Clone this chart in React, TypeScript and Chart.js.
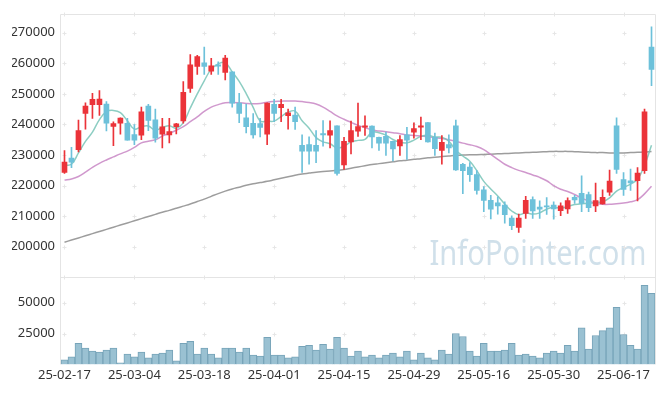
import { useEffect, useRef } from 'react';
import { Chart, registerables } from 'chart.js';

Chart.register(...registerables);

const DATES = [
  '25-02-17','25-02-18','25-02-19','25-02-20','25-02-21','25-02-24','25-02-25','25-02-26','25-02-27','25-02-28',
  '25-03-04','25-03-05','25-03-06','25-03-07','25-03-10','25-03-11','25-03-12','25-03-13','25-03-14','25-03-17',
  '25-03-18','25-03-19','25-03-20','25-03-21','25-03-24','25-03-25','25-03-26','25-03-27','25-03-28','25-03-31',
  '25-04-01','25-04-02','25-04-03','25-04-04','25-04-07','25-04-08','25-04-09','25-04-10','25-04-11','25-04-14',
  '25-04-15','25-04-16','25-04-17','25-04-18','25-04-21','25-04-22','25-04-23','25-04-24','25-04-25','25-04-28',
  '25-04-29','25-04-30','25-05-02','25-05-07','25-05-08','25-05-09','25-05-12','25-05-13','25-05-14','25-05-15',
  '25-05-16','25-05-19','25-05-20','25-05-21','25-05-22','25-05-23','25-05-26','25-05-27','25-05-28','25-05-29',
  '25-05-30','25-06-02','25-06-04','25-06-05','25-06-09','25-06-10','25-06-11','25-06-12','25-06-13','25-06-16',
  '25-06-17','25-06-18','25-06-19','25-06-20','25-06-23',
];

const OPEN = [
  224300,229000,231800,243600,246500,246500,246700,239400,240400,240400,
  236700,236500,246000,241500,236800,236600,239300,241200,251800,259000,
  260200,257400,259500,257000,257200,247000,242200,240400,240300,236800,
  246600,245500,242900,243100,233200,233400,233200,237000,236500,239600,
  226800,234300,237800,239100,239500,235800,236100,234500,233000,236600,
  237500,239100,240600,235800,231500,233400,239600,227000,226100,223600,
  218600,215200,214400,213600,209400,206300,210900,215400,213000,213400,
  213600,211800,212400,216200,217500,217100,213400,214000,217900,239600,
  222000,221600,221600,224900,265300,
];
const HIGH = [
  231500,232500,241400,247100,250200,251100,247500,240900,242200,242000,
  240000,245700,246600,245000,242000,242000,240400,254000,262900,262600,
  265300,261600,260500,262600,257200,250200,246700,243600,242000,247100,
  248200,248200,245000,245700,236600,236000,238000,241300,241200,239600,
  235800,241100,247000,242800,239600,235900,237500,234600,236400,239100,
  240500,242400,240600,237200,236400,236600,241400,227300,227500,224900,
  219700,216800,216300,214700,210100,210700,216500,216300,215000,216100,
  214700,214400,216000,216800,223200,217900,220800,218600,225100,242200,
  224300,225400,225900,245000,271900,
];
const LOW = [
  224000,225900,231000,238500,242000,243000,237900,233100,236800,234900,
  233400,235000,238000,234200,232300,234000,236900,240400,250500,256400,
  256400,256400,256400,254600,245700,240600,237200,235500,235900,233400,
  240900,240900,238500,238400,224300,227000,227500,232900,232300,223400,
  225300,230400,236100,236400,232300,231500,229900,228100,229900,228600,
  235500,235000,234200,229900,227000,230700,225000,217400,221400,217200,
  211500,209100,210700,207700,205600,204700,209300,209300,209300,210600,
  209000,210200,210900,214200,211500,211500,211500,213900,216800,224000,
  216800,218400,215000,224000,252700,
];
const CLOSE = [
  227700,227700,238000,246000,248200,248300,240400,240300,242100,234900,
  234900,244100,241300,235500,239200,237700,240200,250500,259500,262200,
  259000,259200,259100,261700,247000,243600,239300,236600,239000,247000,
  243600,246600,243800,240900,231300,231300,231300,236600,238000,224000,
  234500,238000,239300,239600,235900,233900,233900,232000,235100,234900,
  238700,239600,234300,232100,234200,232300,225100,224900,223600,218400,
  215200,212300,213400,210500,206900,209400,215200,211700,212300,213000,
  212400,213400,215100,215300,214200,212800,215100,216200,221500,225300,
  218800,220900,224100,244100,258000,
];
const MA5 = [
  226700,227000,230700,234500,237500,241600,244200,244600,243900,241200,
  238500,239300,239500,238100,239000,239600,238800,240600,245400,250000,
  254300,258100,259800,260200,257200,254100,250100,245600,241100,241100,
  241100,242600,244000,244400,241200,238800,235700,234300,233700,232300,
  232900,234300,234800,235100,237500,237300,236500,235100,234200,234000,
  234900,236100,236500,235900,235800,234500,231600,229700,228000,224900,
  221400,218900,216600,214000,211700,210500,211100,210700,211100,212300,
  212900,212600,213200,213800,214100,214200,214500,214700,216000,218200,
  219400,220500,222100,226600,233200,
];
const MA20 = [
  221800,222200,223000,224400,226000,227300,228400,229400,230400,231300,
  232500,234000,234500,235000,236200,237100,238100,239300,240900,242500,
  244300,245700,246500,247100,247200,247100,246900,246800,246900,247300,
  247500,247600,247700,247700,247500,247200,246700,245700,244300,242800,
  241700,240700,239700,239000,238200,237900,237600,237300,237000,236600,
  236400,236200,236000,235700,235400,235000,234500,233900,233400,232800,
  231800,230200,228600,227000,225900,225000,224300,223500,222700,221600,
  220000,218800,218100,217100,215900,215000,214200,213900,213900,214100,
  214300,214700,215400,217300,219800,
];
const MA120 = [
  201500,202200,202900,203600,204300,205000,205700,206400,207100,207800,
  208500,209200,209900,210600,211300,211900,212600,213300,214000,214800,
  215600,216500,217400,218200,218900,219500,220100,220600,221000,221400,
  221900,222400,222900,223400,223800,224100,224400,224600,224800,225000,
  225300,225700,226100,226500,226900,227200,227500,227800,228100,228300,
  228600,228800,229100,229300,229500,229700,229900,230000,230100,230100,
  230200,230300,230400,230500,230600,230700,230800,230900,231000,231100,
  231200,231200,231200,231100,231000,230900,230800,230800,230700,230700,
  230700,230800,230900,231000,231200,
];
const VOLUME = [
  3700,6100,17100,13200,10800,10000,11600,13200,1300,8400,
  6100,10000,5300,8400,9200,11600,2900,17100,18700,8400,
  13200,8400,5300,13200,13200,10000,13200,7600,6800,21900,
  7600,7600,5300,6100,14700,15500,11600,16300,12500,21900,
  13200,6800,10800,6100,7600,5300,7600,9200,6100,10800,
  3700,9200,5300,3700,11600,8400,25000,22600,10800,6800,
  17100,10800,10800,11600,17100,7600,8400,6800,5300,9200,
  10800,9200,15500,10800,29700,12400,23400,27400,29700,46300,
  24200,15500,12400,64000,57600,
];

const PRICE_TICKS = [200000, 210000, 220000, 230000, 240000, 250000, 260000, 270000];
const VOLUME_TICKS = [25000, 50000];
const LABEL_EVERY = 10;
const WATERMARK = 'InfoPointer.com';

const UP = '#eb3339';
const DOWN = '#6dc1da';
const FONT = { family: '"Noto Sans", "Liberation Sans", sans-serif', size: 13 };

const framePlugin = {
  id: 'frame',
  beforeDatasetsDraw(chart: any) {
    const ctx = chart.ctx;
    const { left, right, top, bottom } = chart.chartArea;
    const x = chart.scales.x;
    const y = chart.scales.y;
    const yv = chart.scales.yv;
    ctx.save();

    // watermark
    ctx.font = '35px "Noto Sans", sans-serif';
    const w = ctx.measureText(WATERMARK).width;
    const targetW = 217;
    ctx.translate(right - 8.5 - targetW, y.bottom - 11.3);
    ctx.scale(targetW / w, 1);
    ctx.fillStyle = 'rgba(176,204,220,0.6)';
    ctx.textBaseline = 'alphabetic';
    ctx.fillText(WATERMARK, 0, 0);
    ctx.setTransform(1, 0, 0, 1, 0, 0);

    // frame lines
    ctx.strokeStyle = '#e4e4e4';
    ctx.lineWidth = 1;
    const L = Math.round(left) - 0.5;
    const R = Math.round(right) + 0.5;
    const T = Math.round(top) + 0.5;
    const B = Math.round(y.bottom) + 0.5;
    ctx.beginPath();
    ctx.moveTo(L, bottom);
    ctx.lineTo(L, T);
    ctx.lineTo(R, T);
    ctx.lineTo(R, bottom);
    ctx.moveTo(L, B);
    ctx.lineTo(R, B);
    ctx.stroke();

    // grid crosses
    const ys: number[] = [top, y.bottom];
    PRICE_TICKS.forEach((v) => ys.push(y.getPixelForValue(v)));
    VOLUME_TICKS.forEach((v) => ys.push(yv.getPixelForValue(v)));
    ctx.strokeStyle = '#e6e6e6';
    ctx.beginPath();
    for (let i = 0; i < DATES.length; i += LABEL_EVERY) {
      const px = Math.round(x.getPixelForValue(i)) + 0.5;
      ys.forEach((py0) => {
        const py = Math.round(py0) + 0.5;
        ctx.moveTo(px - 2, py);
        ctx.lineTo(px + 2, py);
        ctx.moveTo(px, py - 2);
        ctx.lineTo(px, py + 2);
      });
    }
    ctx.stroke();
    ctx.restore();
  },
};

export default function App() {
  const ref = useRef<HTMLCanvasElement | null>(null);

  useEffect(() => {
    if (!ref.current) return;
    const colors = OPEN.map((o, i) => (CLOSE[i] >= o ? UP : DOWN));
    const chart = new Chart(ref.current, {
      type: 'bar',
      data: {
        labels: DATES,
        datasets: [
          {
            type: 'bar',
            label: 'body',
            data: OPEN.map((o, i) => [o, CLOSE[i]]) as any,
            backgroundColor: colors,
            borderWidth: 0,
            barThickness: 5,
            grouped: false,
            yAxisID: 'y',
            order: 0,
          } as any,
          {
            type: 'bar',
            label: 'wick',
            data: LOW.map((l, i) => [l, HIGH[i]]) as any,
            backgroundColor: colors,
            borderWidth: 0,
            barThickness: 1,
            grouped: false,
            yAxisID: 'y',
            order: 1,
          } as any,
          {
            type: 'line',
            label: 'MA5',
            data: MA5,
            borderColor: 'rgba(120,196,183,0.85)',
            borderWidth: 1.5,
            pointRadius: 0,
            tension: 0.4,
            fill: false,
            yAxisID: 'y',
            order: 2,
          } as any,
          {
            type: 'line',
            label: 'MA20',
            data: MA20,
            borderColor: 'rgba(200,134,196,0.85)',
            borderWidth: 1.5,
            pointRadius: 0,
            tension: 0.4,
            fill: false,
            yAxisID: 'y',
            order: 3,
          } as any,
          {
            type: 'line',
            label: 'MA120',
            data: MA120,
            borderColor: 'rgba(140,140,140,0.85)',
            borderWidth: 1.5,
            pointRadius: 0,
            tension: 0.4,
            fill: false,
            yAxisID: 'y',
            order: 4,
          } as any,
          {
            type: 'bar',
            label: 'volume',
            data: VOLUME,
            backgroundColor: '#9ac1d2',
            borderColor: '#77a4b9',
            borderWidth: 1,
            barPercentage: 1,
            categoryPercentage: 1,
            grouped: false,
            yAxisID: 'yv',
            order: 5,
          } as any,
        ],
      },
      options: {
        responsive: false,
        animation: false,
        devicePixelRatio: 1,
        layout: { padding: { left: 12, right: 10, top: 10, bottom: 10 } },
        plugins: { legend: { display: false }, tooltip: { enabled: false } },
        scales: {
          x: {
            type: 'category',
            offset: true,
            grid: { display: false, drawTicks: false },
            border: { display: false },
            ticks: {
              autoSkip: false,
              maxRotation: 0,
              padding: 3,
              color: '#333',
              font: FONT,
              callback: (_v: any, idx: number) => (idx % LABEL_EVERY === 0 ? DATES[idx] : ''),
            },
          },
          yv: {
            type: 'linear',
            position: 'left',
            stack: 'price',
            stackWeight: 1,
            min: 0,
            max: 71000,
            grid: { display: false, drawTicks: false },
            border: { display: false },
            afterBuildTicks: (s: any) => {
              s.ticks = VOLUME_TICKS.map((v) => ({ value: v }));
            },
            afterFit: (s: any) => {
              s.width = 49;
            },
            ticks: { padding: 6, color: '#333', font: FONT, callback: (v: any) => String(v) },
          },
          y: {
            type: 'linear',
            position: 'left',
            stack: 'price',
            stackWeight: 3,
            min: 190200,
            max: 276200,
            grid: { display: false, drawTicks: false },
            border: { display: false },
            afterBuildTicks: (s: any) => {
              s.ticks = PRICE_TICKS.map((v) => ({ value: v }));
            },
            afterFit: (s: any) => {
              s.width = 49;
            },
            ticks: { padding: 6, color: '#333', font: FONT, callback: (v: any) => String(v) },
          },
        },
      } as any,
      plugins: [framePlugin],
    });
    return () => chart.destroy();
  }, []);

  return (
    <div style={{ position: 'absolute', left: 0, top: 0, width: 665, height: 396, background: '#fff' }}>
      <canvas ref={ref} width={665} height={396} style={{ display: 'block' }} />
    </div>
  );
}
